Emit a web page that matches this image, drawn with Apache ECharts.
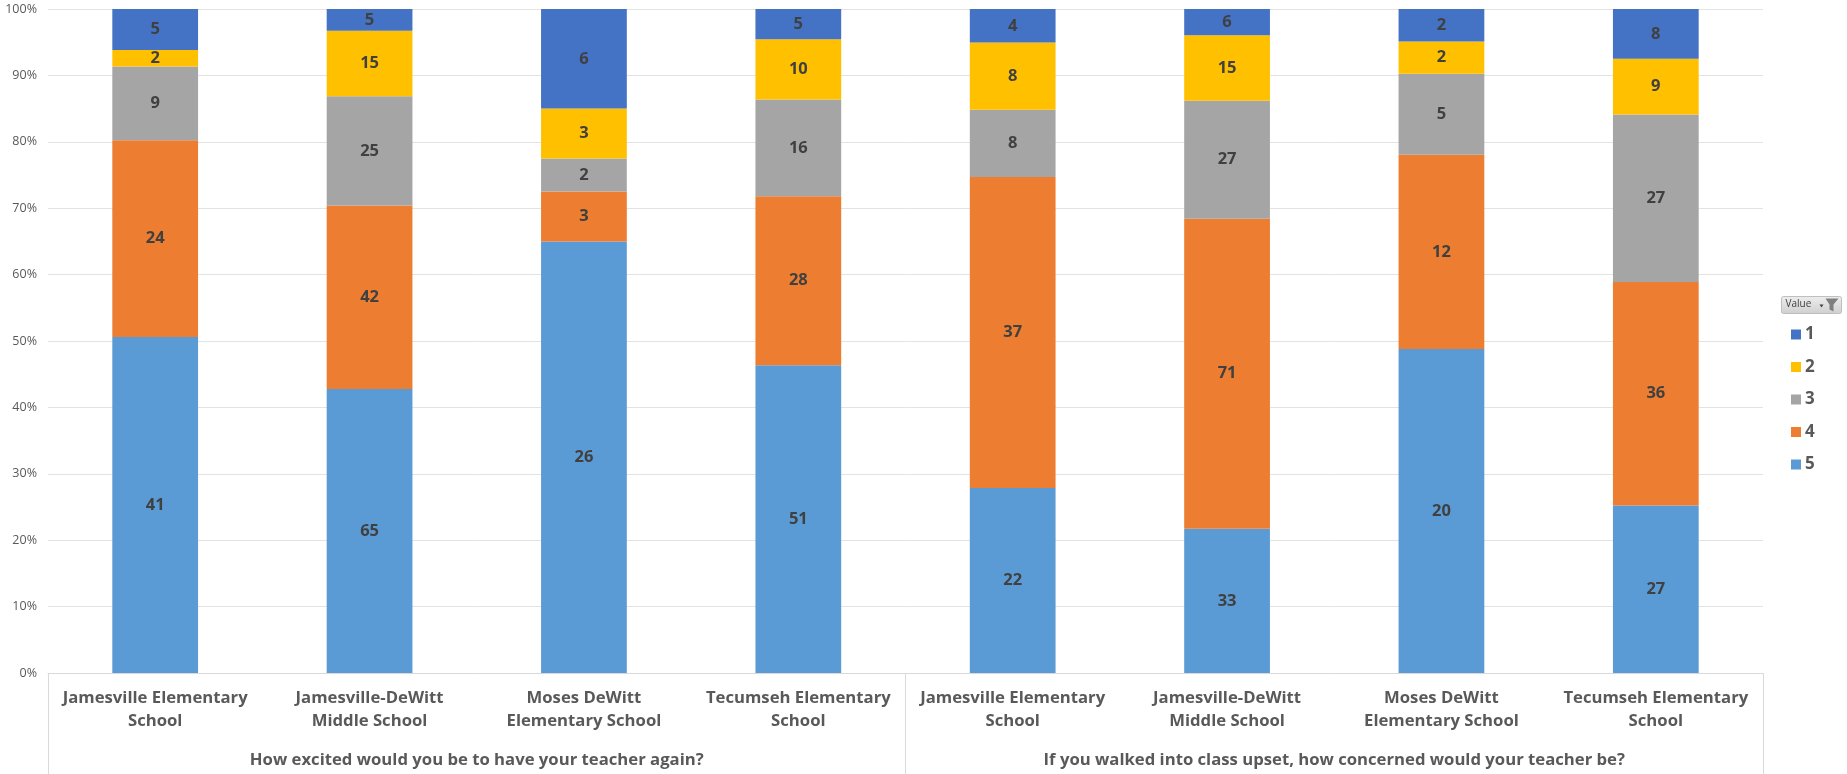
<!DOCTYPE html>
<html>
<head>
<meta charset="utf-8">
<script src="https://cdn.jsdelivr.net/npm/echarts@6/dist/echarts.min.js"></script>
<style>
html,body{margin:0;padding:0;background:#fff;}
#chart{width:1847px;height:774px;}
</style>
</head>
<body>
<div id="chart"></div>
<script>
// ---- data ----
const schools = [
  'Jamesville Elementary\nSchool',
  'Jamesville-DeWitt\nMiddle School',
  'Moses DeWitt\nElementary School',
  'Tecumseh Elementary\nSchool',
  'Jamesville Elementary\nSchool',
  'Jamesville-DeWitt\nMiddle School',
  'Moses DeWitt\nElementary School',
  'Tecumseh Elementary\nSchool'
];
const questions = [
  'How excited would you be to have your teacher again?',
  'If you walked into class upset, how concerned would your teacher be?'
];
const yTicks = [0, 10, 20, 30, 40, 50, 60, 70, 80, 90, 100];
const legendNames = ['1', '2', '3', '4', '5'];
const value1 = [5, 5, 6, 5, 4, 6, 2, 8];
const value2 = [2, 15, 3, 10, 8, 15, 2, 9];
const value3 = [9, 25, 2, 16, 8, 27, 5, 27];
const value4 = [24, 42, 3, 28, 37, 71, 12, 36];
const value5 = [41, 65, 26, 51, 22, 33, 20, 27];

const colors = {'1':'#4472C4','2':'#FFC000','3':'#A5A5A5','4':'#ED7D31','5':'#5B9BD5'};
const counts = {'1':value1,'2':value2,'3':value3,'4':value4,'5':value5};
const totals = schools.map((_, i) => value1[i]+value2[i]+value3[i]+value4[i]+value5[i]);

const FONT = '"Open Sans", "Noto Sans", sans-serif';
const stackOrder = ['5','4','3','2','1'];
const series = stackOrder.map(k => ({
  name: k,
  type: 'bar',
  stack: 'all',
  barWidth: '40%',
  itemStyle: {color: colors[k]},
  data: counts[k].map((v, i) => ({value: v / totals[i] * 100, count: v})),
  label: {
    show: true,
    position: 'inside',
    formatter: p => p.data.count,
    fontFamily: FONT,
    fontWeight: 'bold',
    fontSize: 16.5,
    color: '#404040'
  }
}));

const chart = echarts.init(document.getElementById('chart'), null, {renderer: 'canvas'});
chart.setOption({
  animation: false,
  backgroundColor: '#fff',
  grid: {left: 48, right: 84, top: 9, bottom: 101, containLabel: false},
  legend: {
    orient: 'vertical',
    left: 1786,
    top: 321,
    data: legendNames,
    itemWidth: 10,
    itemHeight: 10,
    itemGap: 15.5,
    icon: 'rect',
    textStyle: {fontFamily: FONT, fontWeight: 'bold', fontSize: 17, lineHeight: 14, color: '#595959', padding: [0,0,0,-1]}
  },
  xAxis: [
    {
      type: 'category',
      data: schools,
      position: 'bottom',
      axisLine: {show: true, lineStyle: {color: '#d9d9d9'}},
      axisTick: {show: false},
      axisLabel: {
        interval: 0,
        margin: 14,
        fontFamily: FONT,
        fontWeight: 'bold',
        fontSize: 16.7,
        lineHeight: 23,
        color: '#595959'
      }
    },
    {
      type: 'category',
      data: questions,
      position: 'bottom',
      gridIndex: 0,
      axisLine: {show: false},
      axisTick: {show: true, length: 101, lineStyle: {color: '#d9d9d9'}},
      axisLabel: {
        interval: 0,
        margin: 79,
        fontFamily: FONT,
        fontWeight: 'bold',
        fontSize: 16.7,
        color: '#595959'
      }
    }
  ],
  yAxis: {
    type: 'value',
    min: yTicks[0],
    max: yTicks[yTicks.length - 1],
    interval: 10,
    axisLine: {show: false},
    axisTick: {show: false},
    splitLine: {lineStyle: {color: '#e3e3e3'}},
    axisLabel: {
      formatter: '{value}%',
      fontFamily: FONT,
      fontSize: 12.5,
      color: '#595959',
      margin: 11
    }
  },
  graphic: [
    {
      type: 'line',
      shape: {x1: 1763.5, y1: 673, x2: 1763.5, y2: 774},
      style: {stroke: '#d9d9d9', lineWidth: 1}
    },
    {
      type: 'group',
      left: 1781,
      top: 296,
      children: [
        {
          type: 'rect',
          shape: {x: 0, y: 0, width: 60, height: 17, r: 2},
          style: {
            fill: new echarts.graphic.LinearGradient(0, 0, 0, 1, [
              {offset: 0, color: '#eeeeee'}, {offset: 1, color: '#cfcfcf'}
            ]),
            stroke: '#bfbfbf', lineWidth: 1
          }
        },
        {
          type: 'text',
          x: 4, y: 3,
          style: {text: 'Value', fontFamily: FONT, fontSize: 10, fill: '#404040'}
        },
        {
          type: 'polygon',
          shape: {points: [[38, 8], [42, 8], [40, 11]]},
          style: {fill: '#404040'}
        },
        {
          type: 'polygon',
          shape: {points: [[44, 2], [57, 2], [52, 8], [52, 15], [48, 13], [48, 8]]},
          style: {fill: '#7f7f7f'}
        }
      ]
    }
  ],
  series: series
});
</script>
</body>
</html>
